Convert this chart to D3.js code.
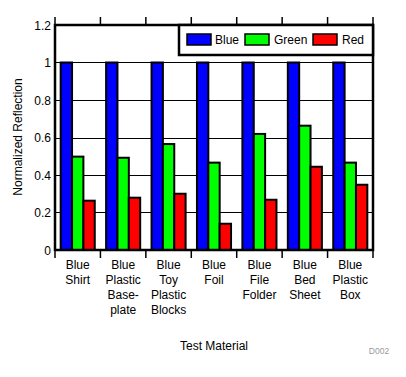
<!DOCTYPE html>
<html><head><meta charset="utf-8">
<script src="https://cdn.jsdelivr.net/npm/d3@7"></script>
<style>body{margin:0;background:#fff}svg{display:block;font-family:"Liberation Sans",Arial,sans-serif}</style>
</head><body><svg id="c" width="406" height="377"></svg>
<script>
const categories = [["Blue","Shirt"],["Blue","Plastic","Base-","plate"],["Blue","Toy","Plastic","Blocks"],["Blue","Foil"],["Blue","File","Folder"],["Blue","Bed","Sheet"],["Blue","Plastic","Box"]];
const seriesNames = ["Blue","Green","Red"];
const seriesColors = ["#0000ff","#00ff00","#ff0000"];
const blueVals = [1,1,1,1,1,1,1];
const greenVals = [0.498,0.492,0.565,0.466,0.619,0.663,0.466];
const redVals = [0.263,0.279,0.30,0.14,0.268,0.444,0.348];
const yTicks = [0,0.2,0.4,0.6,0.8,1,1.2];

const svg = d3.select("#c");
const L=55,R=373,T=25,B=250;
const x = d3.scaleBand().domain(d3.range(categories.length)).range([L,R]).paddingInner(0).paddingOuter(0);
const y = d3.scaleLinear().domain([0,1.2]).range([B,T]);
const xs = d3.scaleBand().domain(d3.range(3)).range([x.bandwidth()/8, x.bandwidth()*7/8]);

// gridlines
svg.append("g").selectAll("line").data(yTicks).join("line")
  .attr("x1",L).attr("x2",R).attr("y1",d=>Math.round(y(d))+0.5).attr("y2",d=>Math.round(y(d))+0.5)
  .attr("stroke","#000").attr("stroke-width",1);

// y labels
svg.append("g").selectAll("text").data(yTicks).join("text")
  .attr("x",51).attr("y",d=>y(d)+4.5).attr("text-anchor","end")
  .attr("font-size",12).text(d=>d3.format("")(d));

// bars
const data = [blueVals,greenVals,redVals];
data.forEach((vals,si)=>{
  svg.append("g").selectAll("rect").data(vals).join("rect")
    .attr("x",(d,i)=>x(i)+xs(si)).attr("width",xs.bandwidth())
    .attr("y",d=>y(d)).attr("height",d=>B-y(d))
    .attr("fill",seriesColors[si]).attr("stroke","#000").attr("stroke-width",2);
});

// top/bottom ticks at category boundaries
const bounds = d3.range(categories.length+1).map(i=>L+i*x.step());
svg.append("g").selectAll("line").data(bounds).join("line")
  .attr("x1",d=>d).attr("x2",d=>d).attr("y1",17).attr("y2",T).attr("stroke","#000").attr("stroke-width",1.5);
svg.append("g").selectAll("line").data(bounds).join("line")
  .attr("x1",d=>d).attr("x2",d=>d).attr("y1",B).attr("y2",258).attr("stroke","#000").attr("stroke-width",1.5);

// plot frame
svg.append("rect").attr("x",L).attr("y",T).attr("width",R-L).attr("height",B-T)
  .attr("fill","none").attr("stroke","#000").attr("stroke-width",2.5);

// legend
const lg = svg.append("g");
lg.append("rect").attr("x",179).attr("y",T).attr("width",R-179).attr("height",30)
  .attr("fill","#fff").attr("stroke","#000").attr("stroke-width",2.5);
const lx = [187,245,313], tx=[215,274,342];
seriesNames.forEach((n,i)=>{
  lg.append("rect").attr("x",lx[i]).attr("y",34).attr("width",24).attr("height",11)
    .attr("fill",seriesColors[i]).attr("stroke","#000").attr("stroke-width",1.5);
  lg.append("text").attr("x",tx[i]).attr("y",44).attr("font-size",12).text(n);
});

// x labels
categories.forEach((lines,i)=>{
  const t = svg.append("text").attr("text-anchor","middle").attr("font-size",12)
    .attr("x",x(i)+x.bandwidth()/2);
  lines.forEach((s,j)=>t.append("tspan").attr("x",x(i)+x.bandwidth()/2).attr("y",269+j*15).text(s));
});

// axis titles
svg.append("text").attr("x",214).attr("y",350).attr("text-anchor","middle").attr("font-size",12).text("Test Material");
svg.append("text").attr("transform","translate(22,137) rotate(-90)").attr("text-anchor","middle").attr("font-size",12).text("Normalized Reflection");
svg.append("text").attr("x",379).attr("y",354).attr("text-anchor","middle").attr("font-size",8.5).attr("fill","#999").text("D002");
</script></body></html>
